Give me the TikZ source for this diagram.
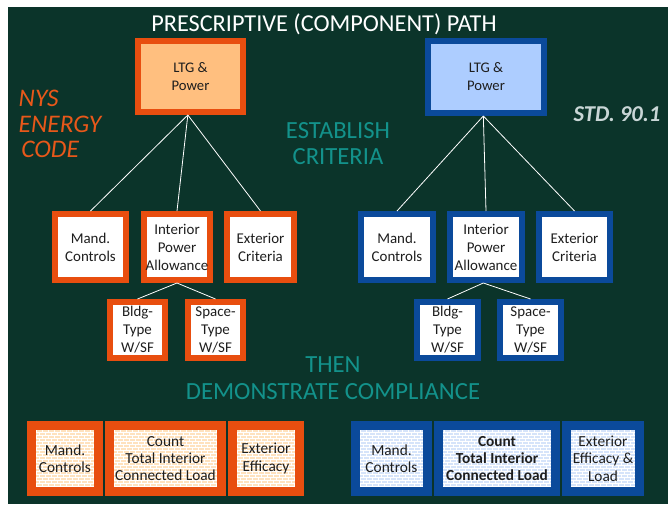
\documentclass[tikz,border=0pt]{standalone}
\usepackage{fontspec}
\setmainfont{Carlito}
\usetikzlibrary{patterns,shadows}
\definecolor{bg}{RGB}{11,52,42}
\definecolor{orbord}{RGB}{232,78,15}
\definecolor{orfill}{RGB}{255,191,127}
\definecolor{orlight}{RGB}{255,226,190}
\definecolor{blbord}{RGB}{11,74,155}
\definecolor{blfill}{RGB}{173,205,255}
\definecolor{bllight}{RGB}{214,228,250}
\definecolor{tealtxt}{RGB}{19,146,139}
\definecolor{nystxt}{RGB}{232,88,26}
\definecolor{stdtxt}{RGB}{201,214,214}
\definecolor{boxtxt}{RGB}{30,30,30}
\pgfdeclarepatternformonly{smallbricks}{\pgfqpoint{-0.5pt}{-0.5pt}}{\pgfqpoint{5pt}{5pt}}{\pgfqpoint{4.5pt}{4.5pt}}{%
  \pgfsetlinewidth{0.45pt}%
  \pgfpathmoveto{\pgfqpoint{0pt}{0pt}}\pgfpathlineto{\pgfqpoint{4.5pt}{0pt}}%
  \pgfpathmoveto{\pgfqpoint{0pt}{2.25pt}}\pgfpathlineto{\pgfqpoint{4.5pt}{2.25pt}}%
  \pgfpathmoveto{\pgfqpoint{0pt}{0pt}}\pgfpathlineto{\pgfqpoint{0pt}{2.25pt}}%
  \pgfpathmoveto{\pgfqpoint{2.25pt}{2.25pt}}\pgfpathlineto{\pgfqpoint{2.25pt}{4.5pt}}%
  \pgfusepath{stroke}}
\begin{document}
\begin{tikzpicture}[x=0.75pt,y=-0.75pt,
  sz/.style 2 args={minimum width=#1*0.75pt, minimum height=#2*0.75pt, inner sep=0pt},
  topbox/.style={draw, line width=6*0.75pt, text=boxtxt, align=center,
    font=\fontsize{11}{13.5}\selectfont},
  midbox/.style={draw, line width=6*0.75pt, fill=white, text=boxtxt, align=center,
    font=\fontsize{11.2}{13.5}\selectfont},
  botbox/.style={draw, line width=9*0.75pt, text=boxtxt, align=center,
    font=\fontsize{11.5}{13}\selectfont, pattern=smallbricks, pattern color=white},
  orb/.style={draw=orbord},
  blb/.style={draw=blbord},
  link/.style={draw=white, line width=0.6pt},
  heading/.style={text=white, font=\fontsize{18.2}{20}\selectfont},
  stage/.style={text=tealtxt, align=center, font=\fontsize{18.5}{19.5}\selectfont}
]
\useasboundingbox (0,0) rectangle (668,504);
\fill[white] (0,0) rectangle (668,504);
\fill[bg] (8,7) rectangle (668,504);

\node[heading] (title) at (324,24) {PRESCRIPTIVE (COMPONENT) PATH};

\node[anchor=west, align=left, text=nystxt, font=\fontsize{19}{19}\itshape] (nys) at (14,124)
  {NYS\\ENERGY\\\hspace*{2pt}CODE};
\node[text=stdtxt, font=\fontsize{17}{20}\bfseries\itshape] (std) at (617,114) {STD. 90.1};

\node[stage] (est) at (338,144) {ESTABLISH\\CRITERIA};
\node[stage, font=\fontsize{18.5}{20}\selectfont] (then) at (333,378) {THEN\\DEMONSTRATE COMPLIANCE};

% top boxes
\node[topbox, orb, fill=orfill, sz={105}{71},
  drop shadow={shadow xshift=1.6pt, shadow yshift=-1.6pt, fill=gray!80, opacity=1}]
  (ltgL) at (190.5,76.5) {LTG \&\\Power};
\node[topbox, blb, fill=blfill, sz={116}{72}] (ltgR) at (486,77) {LTG \&\\Power};

% second row left
\node[midbox, orb, sz={71}{66}] (mandL) at (90.5,247) {Mand.\\Controls};
\node[midbox, orb, sz={66}{66}] (ipaL) at (177,247) {Interior\\Power\\Allowance};
\node[midbox, orb, sz={67}{66}] (extL) at (260.5,247) {Exterior\\Criteria};
\node[midbox, orb, sz={55}{56}] (bldgL) at (137.5,330) {Bldg-\\Type\\W/SF};
\node[midbox, orb, sz={55}{56}] (spaceL) at (215.5,330) {Space-\\Type\\W/SF};

% second row right
\node[midbox, blb, sz={72}{66}] (mandR) at (397,247) {Mand.\\Controls};
\node[midbox, blb, sz={72}{66}] (ipaR) at (486,247) {Interior\\Power\\Allowance};
\node[midbox, blb, sz={71}{66}] (extR) at (574.5,247) {Exterior\\Criteria};
\node[midbox, blb, sz={61}{56}] (bldgR) at (447.5,330) {Bldg-\\Type\\W/SF};
\node[midbox, blb, sz={61}{56}] (spaceR) at (530.5,330) {Space-\\Type\\W/SF};

% connectors
\draw[link] ([xshift=-2pt]ltgL.south) -- (mandL.north);
\draw[link] ([xshift=-2pt]ltgL.south) -- (ipaL.north);
\draw[link] ([xshift=-2pt]ltgL.south) -- (extL.north);
\draw[link] ([xshift=-2pt]ltgR.south) -- (mandR.north);
\draw[link] ([xshift=-2pt]ltgR.south) -- (ipaR.north);
\draw[link] ([xshift=-2pt]ltgR.south) -- (extR.north);
\draw[link] (ipaL.south) -- (bldgL.north);
\draw[link] (ipaL.south) -- (spaceL.north);
\draw[link] ([xshift=-2pt]ipaR.south) -- (bldgR.north);
\draw[link] ([xshift=-2pt]ipaR.south) -- (spaceR.north);

% bottom row left
\node[botbox, orb, preaction={fill=orlight}, sz={67}{66}] (bmandL) at (65,458.5) {Mand.\\Controls};
\node[botbox, orb, preaction={fill=orlight}, sz={112}{66}] (bcountL) at (165.5,458.5) {Count\\Total Interior\\Connected Load};
\node[botbox, orb, preaction={fill=orlight}, sz={67}{66}] (bextL) at (266,458.5) {Exterior\\Efficacy};

% bottom row right
\node[botbox, blb, preaction={fill=bllight}, sz={72}{66}] (bmandR) at (391.5,458.5) {Mand.\\Controls};
\node[botbox, blb, preaction={fill=bllight}, sz={117}{66}, font=\fontsize{11.5}{13}\bfseries] (bcountR) at (497,458.5) {Count\\Total Interior\\Connected Load};
\node[botbox, blb, preaction={fill=bllight}, sz={73}{66}] (bextR) at (603,458.5) {Exterior\\Efficacy \&\\Load};
\end{tikzpicture}
\end{document}
